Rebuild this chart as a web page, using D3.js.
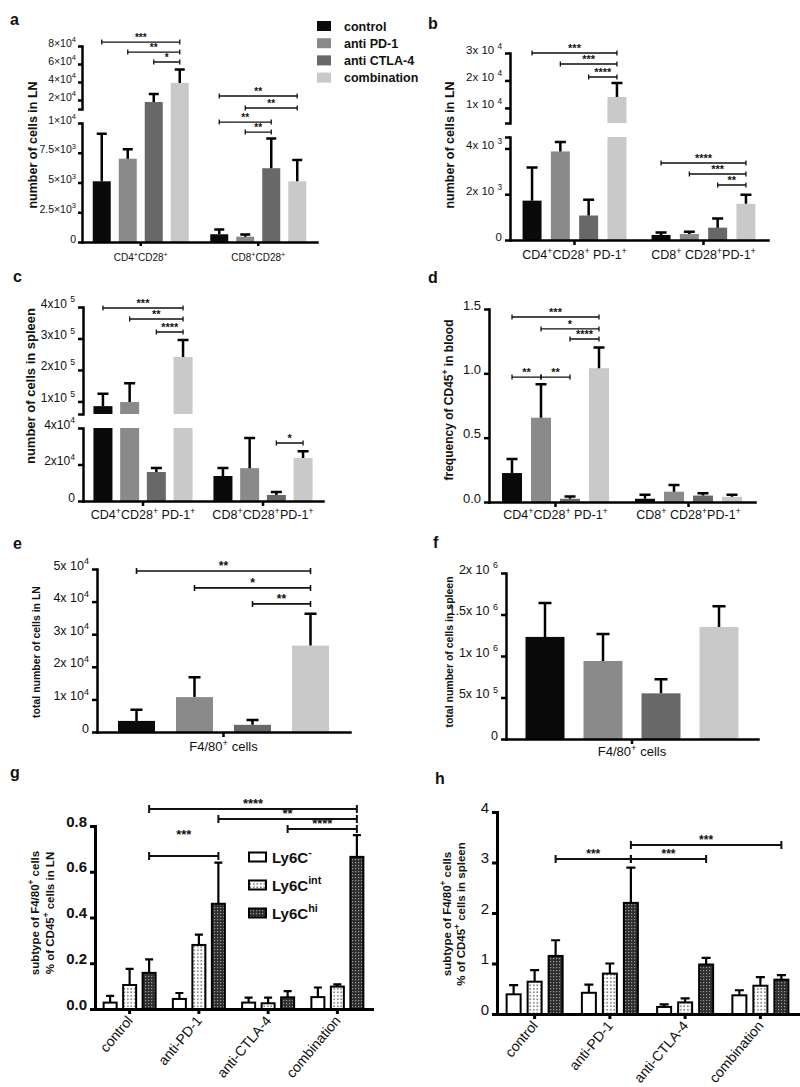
<!DOCTYPE html>
<html><head><meta charset="utf-8">
<script src="https://cdn.jsdelivr.net/npm/d3@7"></script>
<style>body{margin:0;background:#fff}svg{display:block}</style>
</head><body>
<svg id="c" width="800" height="1087">
<defs>
<pattern id="pInt" width="3.5" height="3.5" patternUnits="userSpaceOnUse"><rect width="3.5" height="3.5" fill="#fff"/><rect x="1" y="1" width="1.6" height="1.6" fill="#7a7a7a"/></pattern>
<pattern id="pHi" width="3" height="3" patternUnits="userSpaceOnUse"><rect width="3" height="3" fill="#2e2e2e"/><rect x="1" y="1" width="1.2" height="1.2" fill="#9a9a9a"/></pattern>
</defs>
</svg>
<script>
// ---------------- DATA ----------------
const treatments = ["control", "anti PD-1", "anti CTLA-4", "combination"];
const treatmentColors = ["#0a0a0a", "#8a8a8a", "#686868", "#c9c9c9"];
const treatmentLabels = ["control", "anti-PD-1", "anti-CTLA-4", "combination"];
const ly6cSubsets = ["Ly6C{-}", "Ly6C{int}", "Ly6C{hi}"];

// panel a : LN
const aGroups = ["CD4{+}CD28{+}", "CD8{+}CD28{+}"];
const aMeans = [[5100, 7000, 17800, 39000], [650, 450, 6200, 5100]];
const aErrTop = [[9100, 7800, 26700, 54000], [1050, 620, 8700, 6900]];
const aTicksLow = [0, 2500, 5000, 7500, 10000];
const aTickLabelsLow = ["0", "2.5×10{3}", "5×10{3}", "7.5×10{3}", "1×10{4}"];
const aTicksUp = [10000, 20000, 40000, 60000, 80000];
const aTickLabelsUp = ["", "2×10{4}", "4×10{4}", "6×10{4}", "8×10{4}"];
const aSig = [[0, 0, 3, 84400, "up", "***"], [0, 1, 3, 73300, "up", "**"], [0, 2, 3, 62200, "up", "*"],
              [1, 0, 3, 12270, "low", "**"], [1, 1, 3, 11260, "low", "**"], [1, 0, 2, 10080, "low", "**"], [1, 1, 2, 9240, "low", "**"]];

// panel b : LN, PD-1+
const bGroups = ["CD4{+}CD28{+} PD-1{+}", "CD8{+} CD28{+}PD-1{+}"];
const bMeans = [[1720, 3870, 1070, 14000], [220, 260, 540, 1580]];
const bErrTop = [[3170, 4280, 1760, 19100], [330, 360, 940, 1980]];
const bTicksLow = [0, 2000, 4000, 4500];
const bTickLabelsLow = ["0", "2x 10 {3}", "4x 10 {3}", ""];
const bTicksUp = [4500, 10000, 20000, 30000];
const bTickLabelsUp = ["", "1x 10 {4}", "2x 10 {4}", "3x 10 {4}"];
const bSig = [[0, 0, 3, 30000, "up", "***"], [0, 1, 3, 26000, "up", "***"], [0, 2, 3, 21250, "up", "****"],
              [1, 0, 3, 3364, "low", "****"], [1, 1, 3, 2884, "low", "***"], [1, 2, 3, 2403, "low", "**"]];

// panel c : spleen, PD-1+
const cGroups = ["CD4{+}CD28{+} PD-1{+}", "CD8{+}CD28{+}PD-1{+}"];
const cMeans = [[85000, 98000, 15900, 241000], [13700, 18000, 3300, 23500]];
const cErrTop = [[124000, 158000, 18100, 295000], [18100, 34500, 5000, 27200]];
const cTicksLow = [0, 20000, 40000];
const cTickLabelsLow = ["0", "2x10{4}", "4x10{4}"];
const cTicksUp = [60000, 100000, 200000, 300000, 400000];
const cTickLabelsUp = ["", "1x10 {5}", "2x10 {5}", "3x10 {5}", "4x10 {5}"];
const cSig = [[0, 0, 3, 396800, "up", "***"], [0, 1, 3, 361900, "up", "**"], [0, 2, 3, 320600, "up", "****"],
              [1, 2, 3, 31780, "low", "*"]];

// panel d : blood
const dGroups = ["CD4{+}CD28{+} PD-1{+}", "CD8{+} CD28{+}PD-1{+}"];
const dMeans = [[0.225, 0.655, 0.025, 1.04], [0.025, 0.08, 0.05, 0.04]];
const dErrTop = [[0.335, 0.915, 0.043, 1.2], [0.056, 0.133, 0.068, 0.057]];
const dTicks = [0, 0.5, 1.0, 1.5];
const dTickLabels = ["0.0", "0.5", "1.0", "1.5"];
const dSig = [[0, 0, 3, 1.438, "low", "***"], [0, 1, 3, 1.345, "low", "*"], [0, 2, 3, 1.267, "low", "****"],
              [0, 0, 1, 0.971, "low", "**"], [0, 1, 2, 0.971, "low", "**"]];

// panel e : F4/80+ LN
const eGroups = ["F4/80{+} cells"];
const eMeans = [[3400, 10700, 2200, 26500]];
const eErrTop = [[6800, 16800, 3700, 36300]];
const eTicks = [0, 10000, 20000, 30000, 40000, 50000];
const eTickLabels = ["0", "1x 10{4}", "2x 10{4}", "3x 10{4}", "4x 10{4}", "5x 10{4}"];
const eSig = [[0, 0, 3, 49400, "low", "**"], [0, 1, 3, 44200, "low", "*"], [0, 2, 3, 39300, "low", "**"]];

// panel f : F4/80+ spleen
const fGroups = ["F4/80{+} cells"];
const fMeans = [[1230000, 940000, 550000, 1350000]];
const fErrTop = [[1640000, 1265000, 720000, 1600000]];
const fTicks = [0, 500000, 1000000, 1500000, 2000000];
const fTickLabels = ["0", "5x 10 {5}", "1x 10 {6}", "1.5x 10 {6}", "2x 10 {6}"];
const fSig = [];

// panel g : Ly6C subsets LN
const gMeans = [[0.028, 0.105, 0.158], [0.044, 0.28, 0.46], [0.028, 0.025, 0.051], [0.052, 0.098, 0.665]];
const gErrTop = [[0.057, 0.175, 0.217], [0.07, 0.325, 0.64], [0.05, 0.05, 0.078], [0.094, 0.108, 0.76]];
const gTicks = [0, 0.2, 0.4, 0.6, 0.8];
const gTickLabels = ["0.0", "0.2", "0.4", "0.6", "0.8"];
const gSig = [[0, 3, 0.874, "****"], [1, 3, 0.831, "**"], [2, 3, 0.787, "****"], [0, 1, 0.669, "***"]];

// panel h : Ly6C subsets spleen
const hMeans = [[0.39, 0.64, 1.15], [0.42, 0.80, 2.2], [0.14, 0.23, 0.98], [0.37, 0.56, 0.68]];
const hErrTop = [[0.57, 0.87, 1.46], [0.58, 1.0, 2.9], [0.19, 0.31, 1.11], [0.47, 0.73, 0.77]];
const hTicks = [0, 1, 2, 3, 4];
const hTickLabels = ["0", "1", "2", "3", "4"];
const hSig = [[1, 3, 3.347, "***"], [0, 1, 3.069, "***"], [1, 2, 3.069, "***"]];

// ---------------- DRAWING ----------------
const FONT = '"Liberation Sans", Arial, Helvetica, sans-serif';
const svg = d3.select("#c");
const ly6cFills = ["#ffffff", "url(#pInt)", "url(#pHi)"];

function rich(t, str, fs) {
  const parts = str.split(/(\{[^}]*\})/).filter(s => s.length);
  let raised = false;
  parts.forEach(p => {
    if (p[0] === "{") {
      t.append("tspan").attr("font-size", fs * 0.72).attr("dy", raised ? 0 : -fs * 0.42).text(p.slice(1, -1));
      raised = true;
    } else {
      t.append("tspan").attr("dy", raised ? fs * 0.42 : 0).text(p);
      raised = false;
    }
  });
  return t;
}

function styleAxis(a, L, fs, weight) {
  a.attr("font-family", FONT).attr("font-size", fs).attr("font-weight", weight || "normal");
  a.select(".domain").attr("stroke-width", L.axisW).attr("stroke-linecap", "square");
  a.selectAll(".tick line").attr("stroke-width", L.axisW);
  a.selectAll(".tick text").attr("fill", "#111");
}

function drawPanel(P) {
  const L = P.layout;
  const g = svg.append("g");
  const lo = d3.scaleLinear().domain(L.lowDomain).range(L.lowRange);
  const up = L.upDomain ? d3.scaleLinear().domain(L.upDomain).range(L.upRange) : null;
  const lowMax = L.lowDomain[1];
  const y = v => (!up || v <= lowMax) ? lo(v) : up(v);
  const base = L.lowRange[0];
  const xb = d3.scaleBand().domain(d3.range(P.groups.length)).range([L.x0, L.x1]);
  const nS = P.means[0].length;
  const cx = (gi, si) => xb(gi) + xb.bandwidth() / 2 + (si - (nS - 1) / 2) * L.step;

  // bars
  P.means.forEach((row, gi) => row.forEach((v, si) => {
    const x = cx(gi, si) - L.barW / 2;
    const segs = [];
    if (!up || v <= lowMax) segs.push([lo(v), base]);
    else if (L.fillGap) segs.push([up(v), base]);
    else { segs.push([lo(lowMax), base]); segs.push([up(v), up(L.upDomain[0])]); }
    segs.forEach(([t, b]) => g.append("rect")
      .attr("x", x).attr("y", t).attr("width", L.barW).attr("height", b - t)
      .attr("fill", P.fills[si])
      .attr("stroke", L.barStroke || "none").attr("stroke-width", L.barStrokeW || 0));
  }));
  // error bars
  P.means.forEach((row, gi) => row.forEach((v, si) => {
    const e = P.errTop[gi][si], c = cx(gi, si);
    g.append("path")
      .attr("d", `M${c},${y(v)}V${y(e)}M${c - L.cap / 2},${y(e)}H${c + L.cap / 2}`)
      .attr("stroke", "#000").attr("stroke-width", L.errW).attr("fill", "none");
  }));

  // y axes
  const yAx = (scale, ticks, labels) => {
    const a = g.append("g").attr("transform", `translate(${L.x0},0)`)
      .call(d3.axisLeft(scale).tickValues(ticks).tickSize(L.tick).tickPadding(L.pad).tickSizeOuter(0).tickFormat(""));
    styleAxis(a, L, L.tickFS, L.tickWeight);
    a.selectAll(".tick text").each(function (d, i) { rich(d3.select(this), labels[i], L.tickFS); });
  };
  yAx(lo, P.ticksLow, P.tickLabelsLow);
  if (up) yAx(up, P.ticksUp, P.tickLabelsUp);

  // x axis
  const xa = g.append("g").attr("transform", `translate(0,${base})`)
    .call(d3.axisBottom(xb).tickSize(L.tick).tickSizeOuter(0).tickFormat(""));
  styleAxis(xa, L, L.xlabFS);

  // x labels
  P.groups.forEach((lab, gi) => {
    const c = xb(gi) + xb.bandwidth() / 2;
    const t = g.append("text").attr("font-family", FONT).attr("font-size", L.xlabFS).attr("fill", "#111")
      .attr("font-weight", L.xlabWeight || "normal");
    if (L.rotate) {
      t.attr("transform", `translate(${c + L.rotDx},${base + L.rotDy}) rotate(${L.rotate})`).attr("text-anchor", "end");
    } else {
      t.attr("x", c).attr("y", L.xlabY).attr("text-anchor", "middle");
    }
    rich(t, lab, L.xlabFS);
  });

  // y label
  P.ylab.forEach((line, i) => {
    const t = g.append("text")
      .attr("transform", `translate(${L.ylabX[i] + L.ylabFS * 0.36},${L.ylabY}) rotate(-90)`)
      .attr("text-anchor", "middle").attr("font-family", FONT).attr("font-weight", "bold")
      .attr("font-size", L.ylabFS).attr("fill", "#111");
    rich(t, line, L.ylabFS);
  });

  // panel letter
  g.append("text").attr("x", L.letterX).attr("y", L.letterY).attr("font-family", FONT)
    .attr("font-weight", "bold").attr("font-size", 16).attr("fill", "#111").text(P.letter);

  // significance brackets
  P.sig.forEach((s, k) => {
    let x1, x2, yy, lab;
    if (P.sigAcrossGroups) {
      x1 = cx(s[0], 2); x2 = cx(s[1], 2); yy = lo(s[2]); lab = s[3];
    } else {
      x1 = cx(s[0], s[1]); x2 = cx(s[0], s[2]);
      yy = s[4] === "up" ? up(s[3]) : lo(s[3]); lab = s[5];
    }
    const h = L.sigTick;
    g.append("path")
      .attr("d", `M${x1},${yy}H${x2}M${x1},${yy - h}V${yy + h}M${x2},${yy - h}V${yy + h}`)
      .attr("stroke", "#111").attr("stroke-width", L.sigW).attr("fill", "none");
    const lift = (L.sigLift && L.sigLift[k]) || 0;
    g.append("text").attr("x", (x1 + x2) / 2).attr("y", yy - 1 - lift)
      .attr("text-anchor", "middle").attr("font-family", FONT).attr("font-weight", "bold")
      .attr("font-size", L.sigFS).attr("fill", "#111").text(lab);
  });
}

const common = { axisW: 2.5, errW: 2.5, tick: 5, pad: 3, sigTick: 2.5, sigW: 1.3 };

drawPanel({
  letter: "a", groups: aGroups, means: aMeans, errTop: aErrTop, fills: treatmentColors,
  ticksLow: aTicksLow, tickLabelsLow: aTickLabelsLow, ticksUp: aTicksUp, tickLabelsUp: aTickLabelsUp,
  sig: aSig, ylab: ["number of cells in LN"],
  layout: Object.assign({}, common, {
    x0: 82, x1: 317, lowDomain: [0, 10000], lowRange: [242, 123], upDomain: [10000, 80000], upRange: [109, 46],
    fillGap: true, step: 26, barW: 18, cap: 10, tick: 4, pad: 2, tickFS: 10.5, xlabFS: 10, xlabY: 261,
    ylabX: [32], ylabY: 145, ylabFS: 12.5, letterX: 10, letterY: 25, sigFS: 10
  })
});

drawPanel({
  letter: "b", groups: bGroups, means: bMeans, errTop: bErrTop, fills: treatmentColors,
  ticksLow: bTicksLow, tickLabelsLow: bTickLabelsLow, ticksUp: bTicksUp, tickLabelsUp: bTickLabelsUp,
  sig: bSig, ylab: ["number of cells in LN"],
  layout: Object.assign({}, common, {
    x0: 510, x1: 768, lowDomain: [0, 4500], lowRange: [240, 137], upDomain: [4500, 30000], upRange: [123, 53],
    fillGap: false, step: 28.3, barW: 19, cap: 11, tickFS: 11.5, xlabFS: 12.5, xlabY: 259,
    ylabX: [449], ylabY: 145, ylabFS: 12.5, letterX: 428, letterY: 29, sigFS: 11
  })
});

drawPanel({
  letter: "c", groups: cGroups, means: cMeans, errTop: cErrTop, fills: treatmentColors,
  ticksLow: cTicksLow, tickLabelsLow: cTickLabelsLow, ticksUp: cTicksUp, tickLabelsUp: cTickLabelsUp,
  sig: cSig, ylab: ["number of cells in spleen"],
  layout: Object.assign({}, common, {
    x0: 83, x1: 323, lowDomain: [0, 40000], lowRange: [501, 428], upDomain: [60000, 400000], upRange: [414, 307],
    fillGap: false, step: 26.7, barW: 19, cap: 11, tickFS: 12, xlabFS: 12.5, xlabY: 519,
    ylabX: [30], ylabY: 386, ylabFS: 13, letterX: 13, letterY: 282, sigFS: 11
  })
});

drawPanel({
  letter: "d", groups: dGroups, means: dMeans, errTop: dErrTop, fills: treatmentColors,
  ticksLow: dTicks, tickLabelsLow: dTickLabels, sig: dSig, ylab: ["frequency of CD45{+} in blood"],
  layout: Object.assign({}, common, {
    x0: 489, x1: 755, lowDomain: [0, 1.5], lowRange: [502, 309],
    step: 29, barW: 20, cap: 11, tickFS: 13, xlabFS: 12.5, xlabY: 519,
    ylabX: [449], ylabY: 400, ylabFS: 12, letterX: 428, letterY: 283, sigFS: 11
  })
});

drawPanel({
  letter: "e", groups: eGroups, means: eMeans, errTop: eErrTop, fills: treatmentColors,
  ticksLow: eTicks, tickLabelsLow: eTickLabels, sig: eSig, ylab: ["total number of cells in LN"],
  layout: Object.assign({}, common, {
    x0: 97, x1: 350, lowDomain: [0, 50000], lowRange: [732, 569],
    step: 58, barW: 37, cap: 12, tickFS: 12.5, xlabFS: 13, xlabY: 751,
    ylabX: [36], ylabY: 652, ylabFS: 10.5, letterX: 13, letterY: 549, sigFS: 12, sigW: 1.6, sigTick: 3
  })
});

drawPanel({
  letter: "f", groups: fGroups, means: fMeans, errTop: fErrTop, fills: treatmentColors,
  ticksLow: fTicks, tickLabelsLow: fTickLabels, sig: fSig, ylab: ["total number of cells in spleen"],
  layout: Object.assign({}, common, {
    x0: 506, x1: 758, lowDomain: [0, 2000000], lowRange: [739, 573],
    step: 58, barW: 39, cap: 13, tickFS: 12.5, xlabFS: 13, xlabY: 756,
    ylabX: [449], ylabY: 652, ylabFS: 10.5, letterX: 433, letterY: 548, sigFS: 12
  })
});

drawPanel({
  letter: "g", groups: treatmentLabels, means: gMeans, errTop: gErrTop, fills: ly6cFills,
  ticksLow: gTicks, tickLabelsLow: gTickLabels, sig: gSig, sigAcrossGroups: true,
  ylab: ["subtype of F4/80{+} cells", "% of CD45{+} cells in LN"],
  layout: Object.assign({}, common, {
    x0: 95, x1: 372, lowDomain: [0, 0.8], lowRange: [1009, 826], axisW: 3, errW: 2.2,
    step: 19.5, barW: 13, cap: 8, barStroke: "#000", barStrokeW: 2, tickFS: 15, tickWeight: "bold",
    xlabFS: 14, rotate: -50, rotDx: 4, rotDy: 12,
    ylabX: [35, 50], ylabY: 913, ylabFS: 11.5, letterX: 10, letterY: 778, sigFS: 13, sigW: 2, sigTick: 4,
    sigLift: { 3: 16 }
  })
});

drawPanel({
  letter: "h", groups: treatmentLabels, means: hMeans, errTop: hErrTop, fills: ly6cFills,
  ticksLow: hTicks, tickLabelsLow: hTickLabels, sig: hSig, sigAcrossGroups: true,
  ylab: ["subtype of F4/80{+} cells", "% of CD45{+} cells in spleen"],
  layout: Object.assign({}, common, {
    x0: 497, x1: 798, lowDomain: [0, 4], lowRange: [1014, 812], axisW: 3, errW: 2.2,
    step: 21, barW: 14, cap: 9, barStroke: "#000", barStrokeW: 2, tickFS: 15,
    xlabFS: 14, rotate: -50, rotDx: 4, rotDy: 12,
    ylabX: [447, 461], ylabY: 914, ylabFS: 11.5, letterX: 435, letterY: 784, sigFS: 12, sigW: 2, sigTick: 4
  })
});

// legend (panel a)
const legA = svg.append("g");
treatments.forEach((name, i) => {
  const yc = 26 + i * 17.2;
  legA.append("rect").attr("x", 317).attr("y", yc - 5).attr("width", 14).attr("height", 10).attr("fill", treatmentColors[i]);
  legA.append("text").attr("x", 344).attr("y", yc + 4.5).attr("font-family", FONT).attr("font-weight", "bold")
    .attr("font-size", 12.5).attr("fill", "#111").text(name);
});

// legend (panel g)
const legG = svg.append("g");
ly6cSubsets.forEach((name, i) => {
  const yc = 857 + i * 28;
  legG.append("rect").attr("x", 249).attr("y", yc - 4.5).attr("width", 17).attr("height", 9)
    .attr("fill", ly6cFills[i]).attr("stroke", "#000").attr("stroke-width", 2);
  const t = legG.append("text").attr("x", 272).attr("y", yc + 5.5).attr("font-family", FONT).attr("font-weight", "bold")
    .attr("font-size", 15).attr("fill", "#111");
  rich(t, name, 15);
});
</script>
</body></html>
